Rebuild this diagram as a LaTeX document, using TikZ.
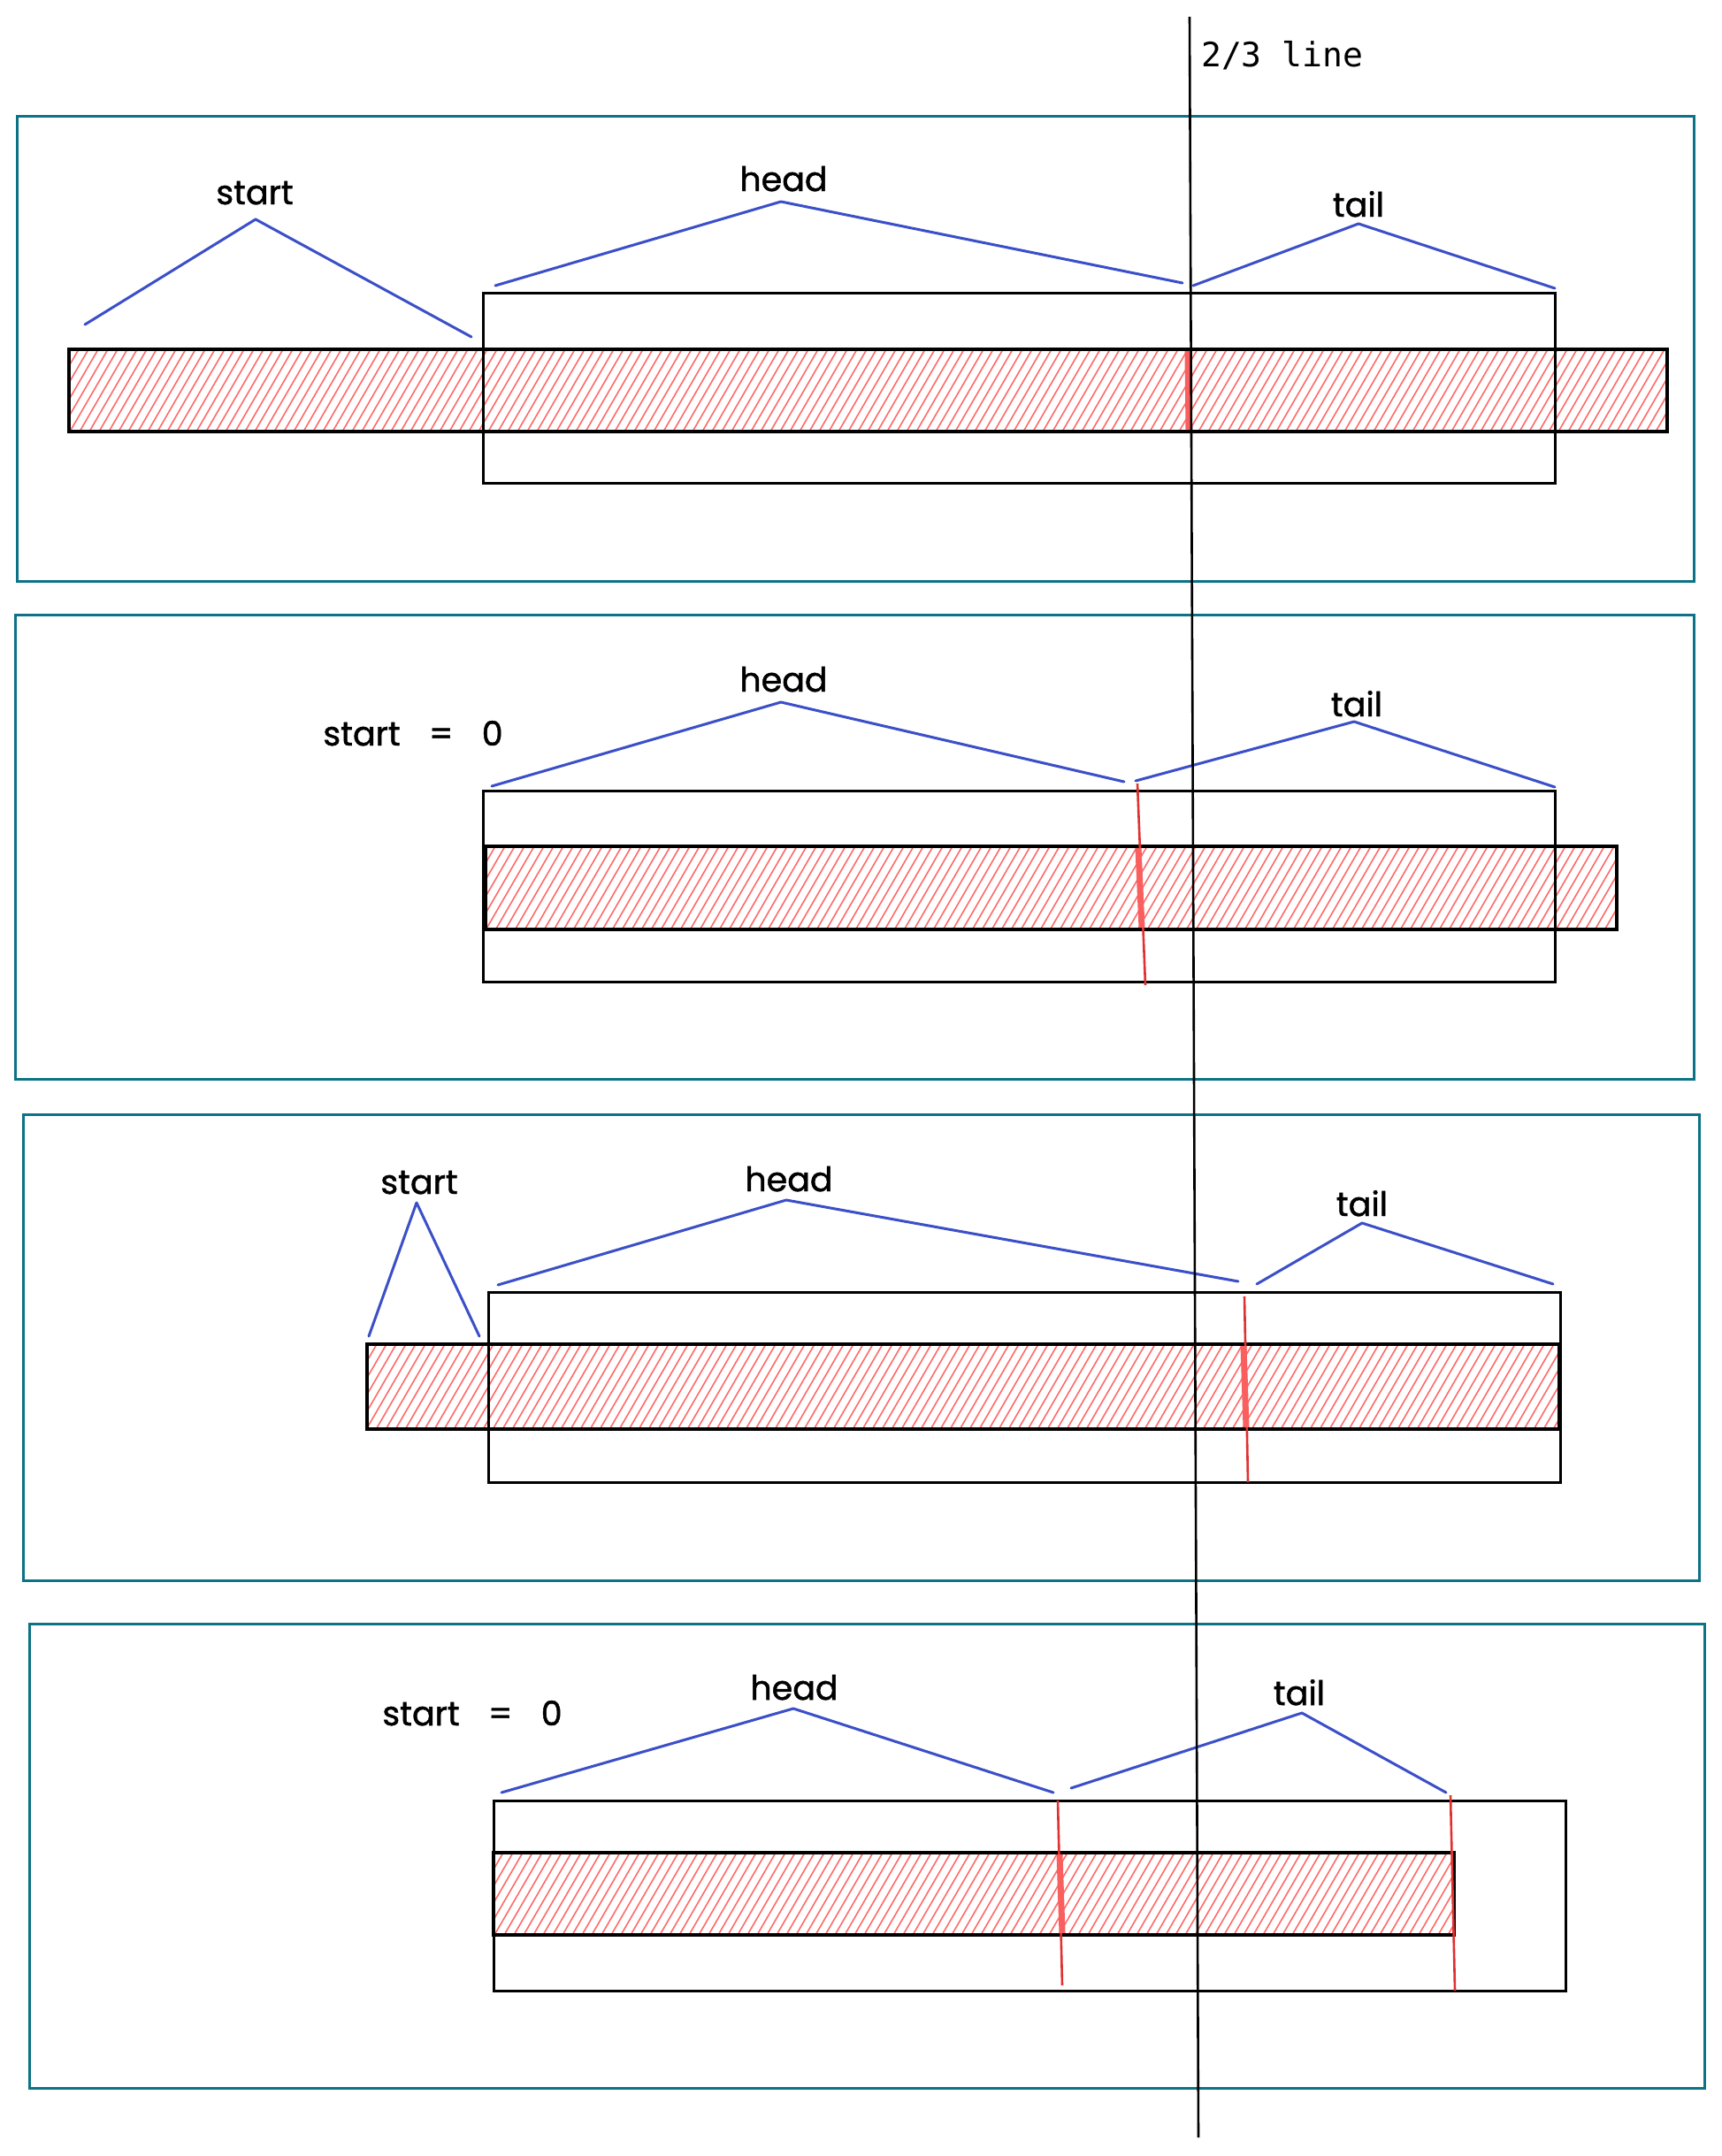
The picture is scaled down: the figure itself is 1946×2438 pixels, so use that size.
\documentclass[tikz,border=0pt]{standalone}
\usepackage{fontspec}
\newfontfamily\handfont[FakeBold=1.2]{Poppins}
\newfontfamily\monofont{DejaVu Sans Mono}
\definecolor{tealframe}{HTML}{0C7285}
\definecolor{braceblue}{HTML}{3B4FC8}
\definecolor{hatchred}{HTML}{FF6B6B}
\definecolor{cutred}{HTML}{E03131}
\tikzset{
  frame/.style={draw=tealframe, line width=3pt},
  win/.style={draw=black, line width=3pt},
  barline/.style={draw=black, line width=3.4pt},
  brace/.style={draw=braceblue, line width=3pt, line cap=round, line join=round},
  hatchline/.style={draw=hatchred, line width=1.6pt},
  lbl/.style={font=\handfont\fontsize{38}{40}\selectfont, inner sep=0pt, anchor=base},
  cut/.style={draw=cutred, line width=2.6pt},
  cutthick/.style={draw=hatchred!80!cutred, line width=7pt},
  axisline/.style={draw=black, line width=2.6pt},
}
\newcommand\hatchedbar[4]{%
  \begin{scope}
    \clip (#1,#2) rectangle (#3,#4);
    \pgfmathsetmacro\hh{#4-#2}
    \pgfmathsetmacro\dxx{0.58*\hh}
    \pgfmathsetmacro\xs{#1-\dxx}
    \pgfmathsetmacro\xn{\xs+11}
    \foreach \i in {\xs,\xn,...,#3} \draw[hatchline] (\i,#4) -- ++(\dxx,-\hh);
  \end{scope}
  \draw[barline] (#1,#2) rectangle (#3,#4);
}
\begin{document}
\begin{tikzpicture}[x=1pt,y=-1pt]
\useasboundingbox[fill=white] (0,0) rectangle (1946,2438);

% ---------- panel frames ----------
\draw[frame] (19,132) rectangle (1915,657);
\draw[frame] (17,695) rectangle (1915,1220);
\draw[frame] (26,1260) rectangle (1921,1787);
\draw[frame] (33,1836) rectangle (1927,2361);

% ---------- panel 1 ----------
\hatchedbar{78}{395}{1885}{488}
\draw[win] (546,331) rectangle (1758,546);
\draw[cutthick] (1343,397) -- (1344,486);
\node[lbl] (s1) at (288,231) {start};
\node[lbl] (h1) at (886,216) {head};
\node[lbl] (t1) at (1536,245) {tail};
\coordinate (s1a) at (96,367);  \coordinate (s1p) at (289,248); \coordinate (s1b) at (533,381);
\coordinate (h1a) at (560,323); \coordinate (h1p) at (883,228); \coordinate (h1b) at (1337,320);
\coordinate (t1a) at (1349,323); \coordinate (t1p) at (1536,253); \coordinate (t1b) at (1758,326);
\draw[brace] (s1a) -- (s1p) -- (s1b);
\draw[brace] (h1a) -- (h1p) -- (h1b);
\draw[brace] (t1a) -- (t1p) -- (t1b);

% ---------- panel 2 ----------
\hatchedbar{549}{957}{1828}{1051}
\draw[win] (546,894) rectangle (1758,1110);
\draw[cut] (1286,886) -- (1295,1114);
\draw[cutthick] (1287,959) -- (1291,1049);
\node[lbl] (s2) at (467,843) {start\hspace{0.85em}=\hspace{0.85em}0};
\node[lbl] (h2) at (886,782) {head};
\node[lbl] (t2) at (1534,810) {tail};
\coordinate (h2a) at (556,889); \coordinate (h2p) at (883,794); \coordinate (h2b) at (1271,884);
\coordinate (t2a) at (1284,883); \coordinate (t2p) at (1531,816); \coordinate (t2b) at (1758,890);
\draw[brace] (h2a) -- (h2p) -- (h2b);
\draw[brace] (t2a) -- (t2p) -- (t2b);

% ---------- panel 3 ----------
\hatchedbar{415}{1520}{1763}{1616}
\draw[win] (552,1461) rectangle (1764,1676);
\draw[cut] (1407,1466) -- (1411,1676);
\draw[cutthick] (1406,1522) -- (1409,1614);
\node[lbl] (s3) at (474,1350) {start};
\node[lbl] (h3) at (892,1347) {head};
\node[lbl] (t3) at (1540,1375) {tail};
\coordinate (s3a) at (417,1511); \coordinate (s3p) at (471,1360); \coordinate (s3b) at (542,1511);
\coordinate (h3a) at (563,1453); \coordinate (h3p) at (889,1357); \coordinate (h3b) at (1400,1449);
\coordinate (t3a) at (1421,1452); \coordinate (t3p) at (1540,1383); \coordinate (t3b) at (1756,1452);
\draw[brace] (s3a) -- (s3p) -- (s3b);
\draw[brace] (h3a) -- (h3p) -- (h3b);
\draw[brace] (t3a) -- (t3p) -- (t3b);

% ---------- panel 4 ----------
\hatchedbar{558}{2095}{1644}{2188}
\draw[win] (558,2036) rectangle (1770,2251);
\draw[cut] (1196,2036) -- (1201,2245);
\draw[cutthick] (1198,2097) -- (1201,2186);
\draw[cut] (1640,2030) -- (1645,2251);
\node[lbl] (s4) at (534,1951) {start\hspace{0.85em}=\hspace{0.85em}0};
\node[lbl] (h4) at (898,1922) {head};
\node[lbl] (t4) at (1469,1928) {tail};
\coordinate (h4a) at (567,2027); \coordinate (h4p) at (897,1932); \coordinate (h4b) at (1191,2027);
\coordinate (t4a) at (1211,2022); \coordinate (t4p) at (1472,1937); \coordinate (t4b) at (1635,2027);
\draw[brace] (h4a) -- (h4p) -- (h4b);
\draw[brace] (t4a) -- (t4p) -- (t4b);

% ---------- 2/3 line ----------
\coordinate (vtop) at (1345,19);
\coordinate (vbot) at (1355,2417);
\draw[axisline] (vtop) -- (vbot);
\node[font=\monofont\fontsize{38}{40}\selectfont, inner sep=0pt, anchor=base west] (twothirds) at (1358,76) {2/3 line};
\end{tikzpicture}
\end{document}
